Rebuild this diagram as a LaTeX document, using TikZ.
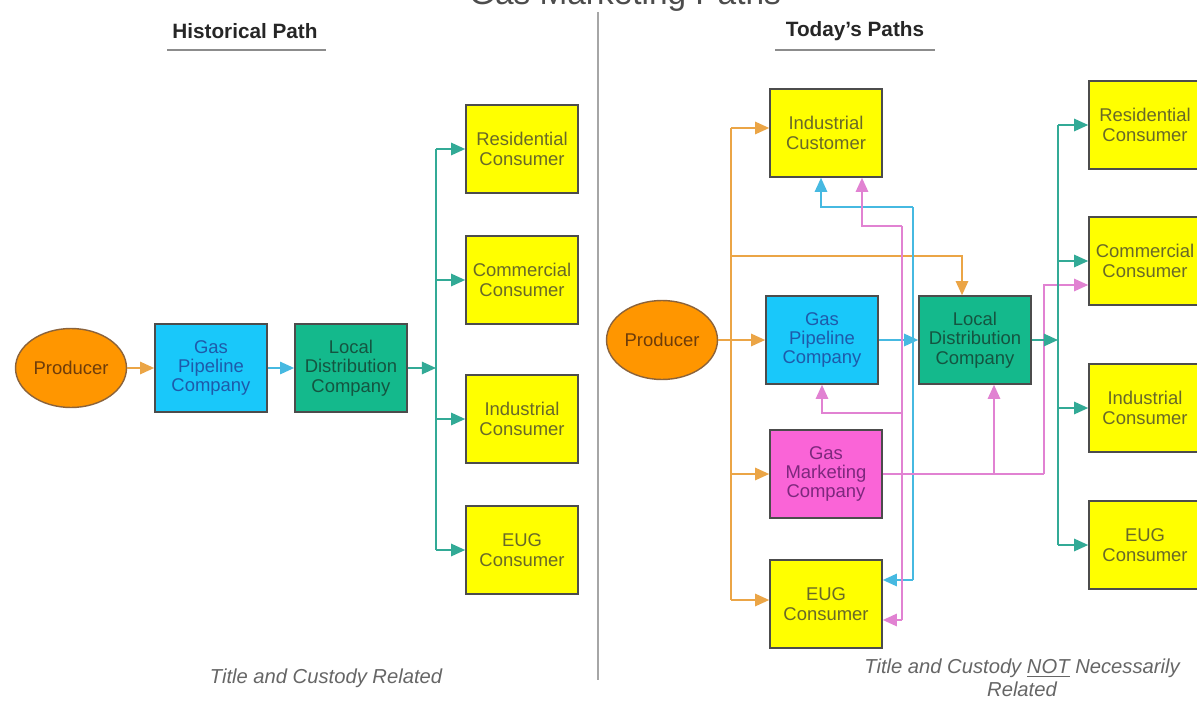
\documentclass[tikz,border=0pt]{standalone}
\usepackage{fontspec}
\setmainfont{Liberation Sans}
\usetikzlibrary{shapes.geometric,arrows.meta,positioning}

\definecolor{consfill}{RGB}{255,255,0}
\definecolor{constext}{RGB}{105,105,40}
\definecolor{pipefill}{RGB}{25,200,250}
\definecolor{pipetext}{RGB}{30,90,170}
\definecolor{ldcfill}{RGB}{20,185,140}
\definecolor{ldctext}{RGB}{20,85,65}
\definecolor{mktfill}{RGB}{250,100,215}
\definecolor{mkttext}{RGB}{125,40,125}
\definecolor{prodfill}{RGB}{255,150,0}
\definecolor{prodtext}{RGB}{110,60,10}
\definecolor{oflow}{RGB}{235,165,70}
\definecolor{bflow}{RGB}{70,185,225}
\definecolor{gflow}{RGB}{50,170,150}
\definecolor{kflow}{RGB}{225,130,210}

\tikzset{
  box/.style={draw=black!70, line width=0.9pt, minimum width=2.24cm, minimum height=1.76cm,
    align=center, inner sep=1pt, font=\fontsize{10.5}{11}\selectfont},
  cons/.style={box, fill=consfill, text=constext},
  pipe/.style={box, fill=pipefill, text=pipetext},
  ldc/.style={box, fill=ldcfill, text=ldctext},
  mkt/.style={box, fill=mktfill, text=mkttext},
  prod/.style={ellipse, draw=prodtext!80, line width=0.8pt, fill=prodfill, text=prodtext,
    minimum width=2.22cm, minimum height=1.58cm, inner sep=0pt, font=\fontsize{10.5}{11}\selectfont},
  heading/.style={font=\fontsize{11.8}{13}\selectfont\bfseries, text=black!85},
  note/.style={font=\fontsize{11.5}{13}\selectfont\itshape, text=black!60, align=center},
  rule/.style={draw=black!45, line width=0.9pt},
  oline/.style={draw=oflow, line width=1.1pt},
  bline/.style={draw=bflow, line width=1.1pt},
  gline/.style={draw=gflow, line width=1.1pt},
  kline/.style={draw=kflow, line width=1.1pt},
  oarr/.style={oline, ->},
  barr/.style={bline, ->},
  garr/.style={gline, ->},
  karr/.style={kline, ->}
}

\begin{document}
\begin{tikzpicture}[x=0.02cm, y=-0.02cm, node distance=2.8cm, >={Triangle[length=8pt,width=7pt]}]
\useasboundingbox (0,0) rectangle (1197,706);
\node[anchor=base, font=\fontsize{19}{21}\selectfont, text=black!70] (head) at (625,5) {Gas Marketing Paths};
\draw[draw=black!35, line width=1.5pt] (598,12) -- (598,680);

\node[heading] (hist) at (245,31) {Historical Path};
\draw[rule] (167,50) -- (326,50);
\node[heading] (today) at (855,31) {Today's Paths};
\draw[rule] (775,50) -- (935,50);

\node[prod] (prod1) at (71,368) {Producer};
\node[pipe] (gas1) [right of=prod1] {Gas\\Pipeline\\Company};
\node[ldc] (ldc1) [right of=gas1] {Local\\Distribution\\Company};
\node[cons] (res1) at (522,149) {Residential\\Consumer};
\node[cons] (com1) at (522,280) {Commercial\\Consumer};
\node[cons] (ind1) at (522,419) {Industrial\\Consumer};
\node[cons] (eug1) at (522,550) {EUG\\Consumer};
\coordinate (bus1) at (436,368);
\draw[oarr] (prod1) -- (gas1);
\draw[barr] (gas1) -- (ldc1);
\draw[garr] (ldc1) -- (bus1);
\draw[gline] (bus1 |- res1) -- (bus1 |- eug1);
\foreach \n in {res1,com1,ind1,eug1}
  \draw[garr] (bus1 |- \n) -- (\n);

\node[prod] (prod2) at (662,340) {Producer};
\node[pipe] (gas2) at (822,340) {Gas\\Pipeline\\Company};
\node[cons] (cust2) at (826,133) {Industrial\\Customer};
\node[ldc] (ldc2) at (975,340) {Local\\Distribution\\Company};
\node[mkt] (mkt2) at (826,474) {Gas\\Marketing\\Company};
\node[cons] (eug2a) at (826,604) {EUG\\Consumer};
\node[cons] (res2) at (1145,125) {Residential\\Consumer};
\node[cons] (com2) at (1145,261) {Commercial\\Consumer};
\node[cons] (ind2) at (1145,408) {Industrial\\Consumer};
\node[cons] (eug2) at (1145,545) {EUG\\Consumer};

\coordinate (o1) at (731,128);
\coordinate (o2) at (731,600);
\coordinate (o3) at (731,256);
\draw[oline] (o1) -- (o2);
\draw[oarr] (o1) -- (o1 -| cust2.west);
\draw[oarr] (prod2) -- (gas2);
\draw[oarr] (o1 |- mkt2) -- (mkt2);
\draw[oarr] (o2) -- (o2 -| eug2a.west);
\draw[oarr] (o3) -| ([xshift=-0.26cm]ldc2.north);

\coordinate (b1) at (913,207);
\coordinate (b2) at (913,580);
\draw[bline] (b1) -- (b2);
\draw[barr] (b1) -| ([xshift=-0.1cm]cust2.south);
\draw[barr] (b2) -- (b2 -| eug2a.east);
\draw[barr] (gas2) -- (ldc2);

\coordinate (k1) at (902,226);
\coordinate (k2) at (902,620);
\coordinate (k3) at (902,413);
\coordinate (k4) at (1044,474);
\coordinate (k5) at (1044,285);
\coordinate (k6) at (994,474);
\draw[kline] (k1) -- (k2);
\draw[karr] (k1) -| ([xshift=0.72cm]cust2.south);
\draw[karr] (k2) -- (k2 -| eug2a.east);
\draw[karr] (k3) -| (gas2);
\draw[kline] (mkt2) -- (k4);
\draw[karr] (k4) |- (k5 -| com2.west);
\draw[karr] (k6) -- (k6 |- ldc2.south);

\coordinate (bus2) at (1058,340);
\draw[garr] (ldc2) -- (bus2);
\draw[gline] (bus2 |- res2) -- (bus2 |- eug2);
\foreach \n in {res2,com2,ind2,eug2}
  \draw[garr] (bus2 |- \n) -- (\n);

\node[note] (cap1) at (326,678) {Title and Custody Related};
\node[note] (cap2) at (1022,678) {Title and Custody \underline{NOT} Necessarily\\Related};
\end{tikzpicture}
\end{document}
